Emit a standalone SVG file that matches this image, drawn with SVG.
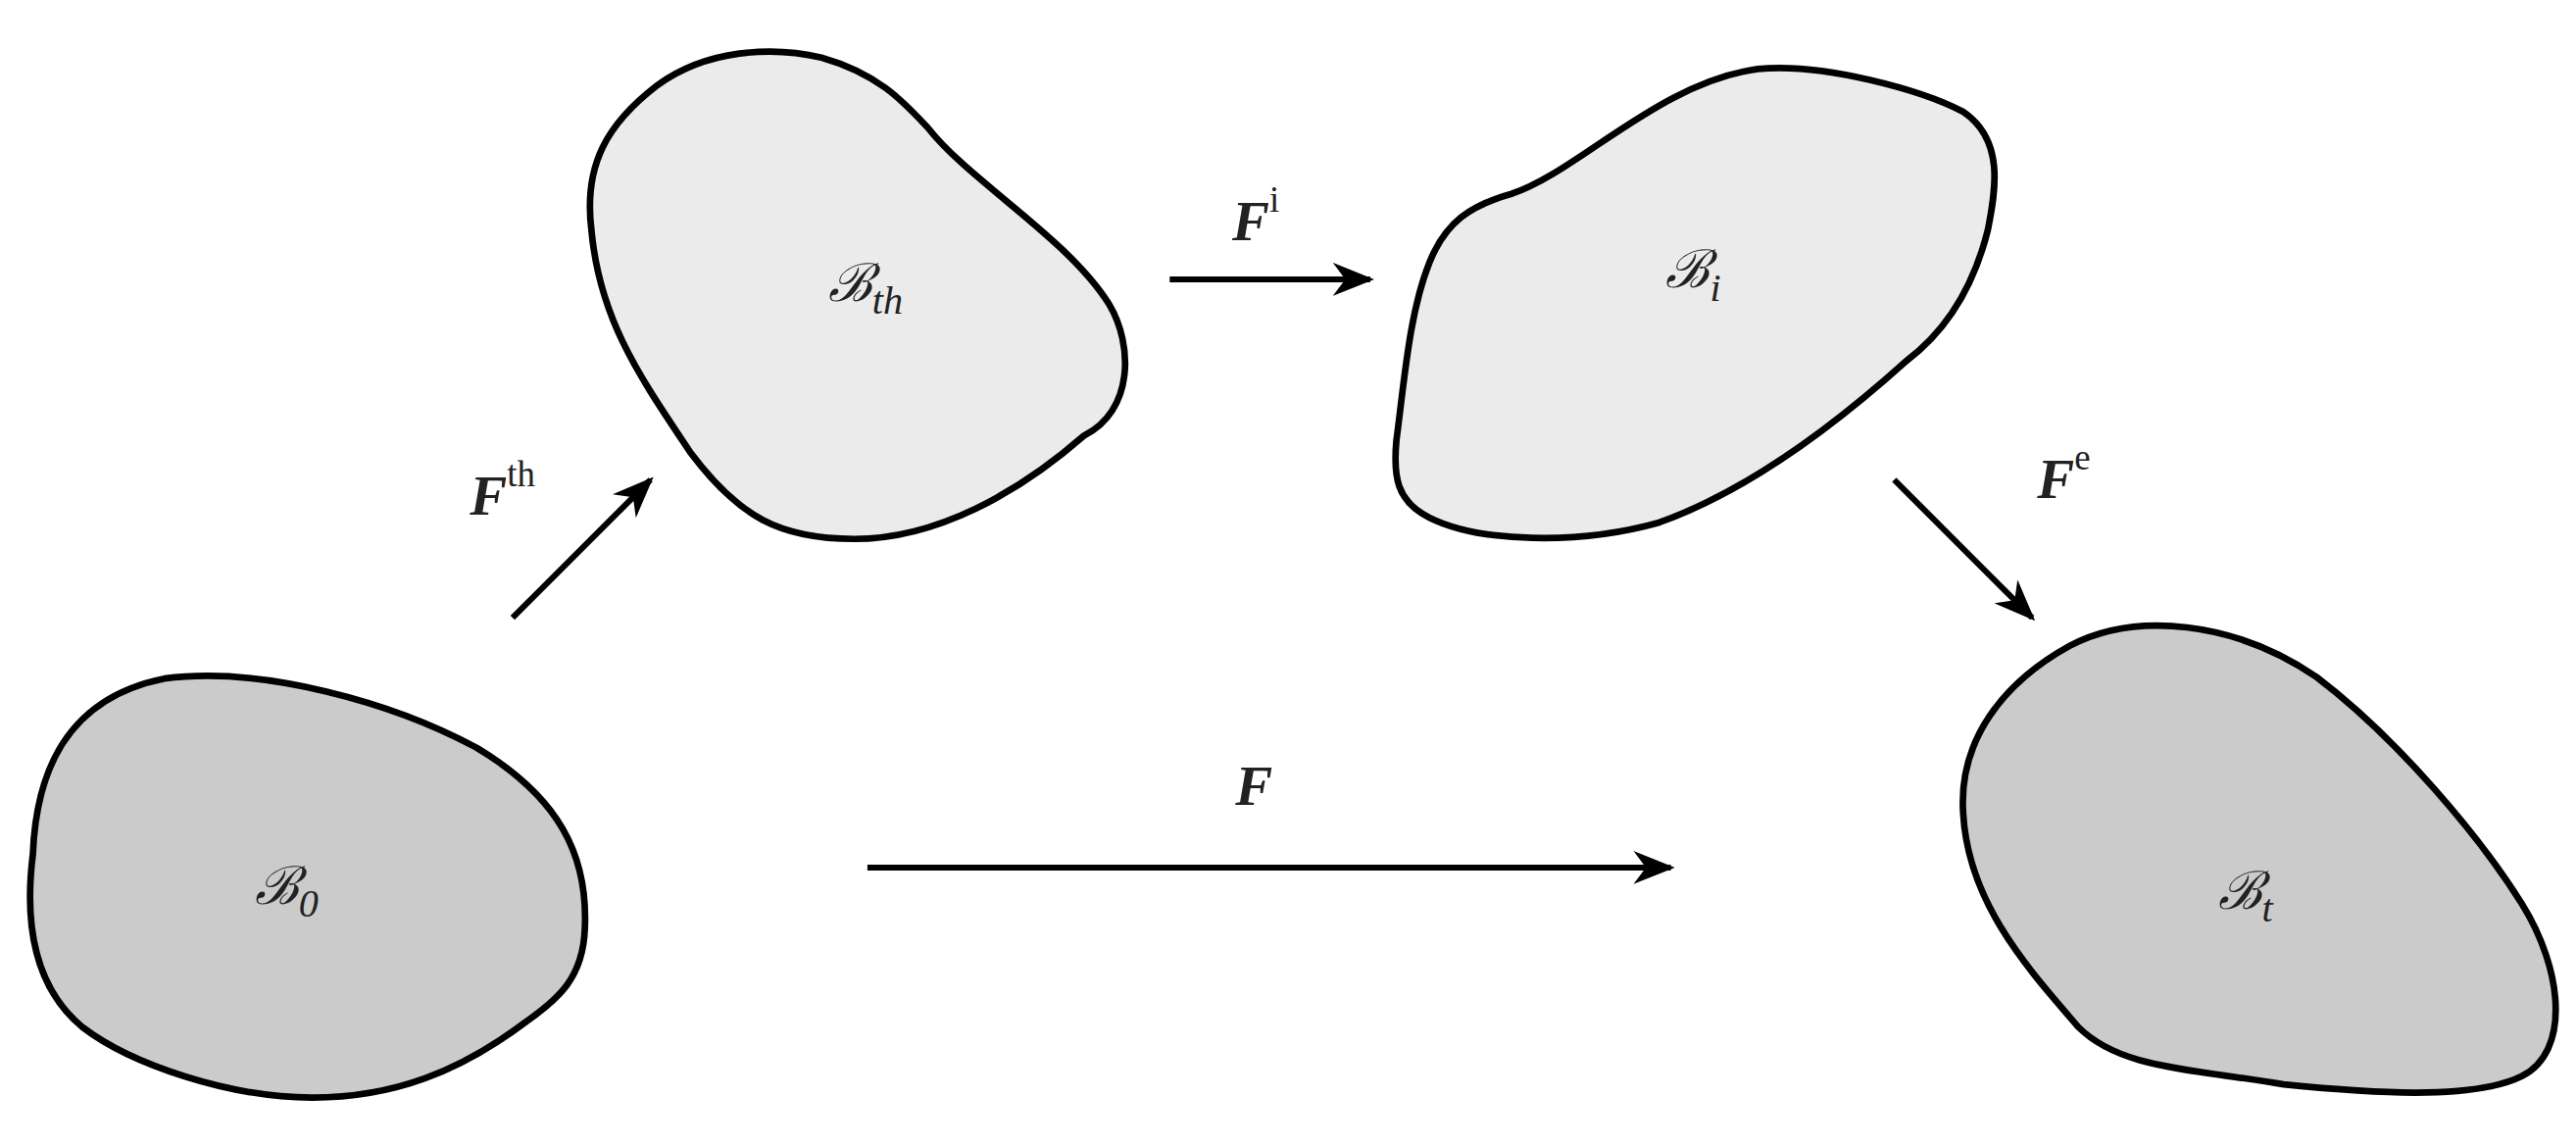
<svg xmlns="http://www.w3.org/2000/svg" width="2628" height="1170" viewBox="0 0 2628 1170">
<defs>
<marker id="ah" viewBox="0 0 10 8" refX="9" refY="4" markerWidth="7" markerHeight="5.6" markerUnits="strokeWidth" orient="auto">
<path d="M0,0 L10,4 L0,8 L3,4 Z" fill="#000"/>
</marker>
<style>
.body{stroke:#000;stroke-width:4;stroke-linejoin:round}
.light{fill:#ebebeb}.dark{fill:#cbcbcb}
.c{stroke:#000;stroke-width:3.6;fill:none;marker-end:url(#ah)}
.lb{font-family:"DejaVu Serif","Liberation Serif",serif;font-size:32px;fill:#222}
.F{font-family:"Liberation Serif",serif;font-style:italic;font-weight:bold;font-size:34px;fill:#222}
.sup{font-family:"Liberation Serif",serif;font-size:22px;fill:#222}
.sub{font-family:"Liberation Serif",serif;font-size:24px;fill:#222}
</style>
</defs>
<rect width="2628" height="1170" fill="#fff"/>
<g transform="scale(1.676)">
<g id="Bth">
<path class="body light" d="M565,78 C590,110 650,145 675,185 C690,210 690,250 660,265 C620,300 570,328 520,328 C475,328 450,315 420,275 C390,230 365,195 360,140 C355,100 370,75 400,52 C430,30 470,28 500,35 C535,45 550,62 565,78 Z"/>
<text class="lb" x="504" y="183" font-style="italic">ℬ<tspan class="sub" dy="8">th</tspan></text>
</g>
<g id="Bi">
<path class="body light" d="M850,268 C855,230 858,190 870,160 C880,135 895,125 920,118 C960,105 1010,50 1070,42 C1110,38 1170,55 1195,68 C1220,85 1215,115 1210,140 C1200,180 1180,205 1160,220 C1110,265 1060,300 1010,318 C960,332 900,330 870,315 C850,305 848,290 850,268 Z"/>
<text class="lb" x="1014" y="175" font-style="italic">ℬ<tspan class="sub" dy="8">i</tspan></text>
</g>
<g id="B0">
<path class="body dark" d="M20,520 C22,470 40,425 100,413 C160,405 240,428 290,455 C340,485 358,520 356,565 C355,595 340,608 320,622 C280,652 240,668 190,668 C140,668 80,648 50,625 C20,600 15,560 20,520 Z"/>
<text class="lb" x="155" y="550" font-style="italic">ℬ<tspan class="sub" dy="8">0</tspan></text>
</g>
<g id="Bt">
<path class="body dark" d="M1195,495 C1192,450 1220,415 1260,393 C1300,372 1360,378 1410,412 C1460,450 1510,510 1535,550 C1560,590 1565,640 1535,655 C1505,670 1440,665 1390,660 C1330,650 1290,650 1265,625 C1235,590 1198,550 1195,495 Z"/>
<text class="lb" x="1350" y="553" font-style="italic">ℬ<tspan class="sub" dy="8" font-style="italic">t</tspan></text>
</g>
<g id="connectors">
<line class="c" x1="312" y1="376" x2="396" y2="292"/>
<line class="c" x1="712" y1="170" x2="834" y2="170"/>
<line class="c" x1="1153" y1="292" x2="1237" y2="376"/>
<line class="c" x1="528" y1="528" x2="1017" y2="528"/>
</g>
<g id="labels">
<text class="F" x="286" y="313">F<tspan class="sup" dy="-17" font-weight="normal" font-style="normal">th</tspan></text>
<text class="F" x="750" y="146">F<tspan class="sup" dy="-17" font-weight="normal" font-style="normal">i</tspan></text>
<text class="F" x="1240" y="303">F<tspan class="sup" dy="-17" font-weight="normal" font-style="normal">e</tspan></text>
<text class="F" x="752" y="490">F</text>
</g>
</g>
</svg>
